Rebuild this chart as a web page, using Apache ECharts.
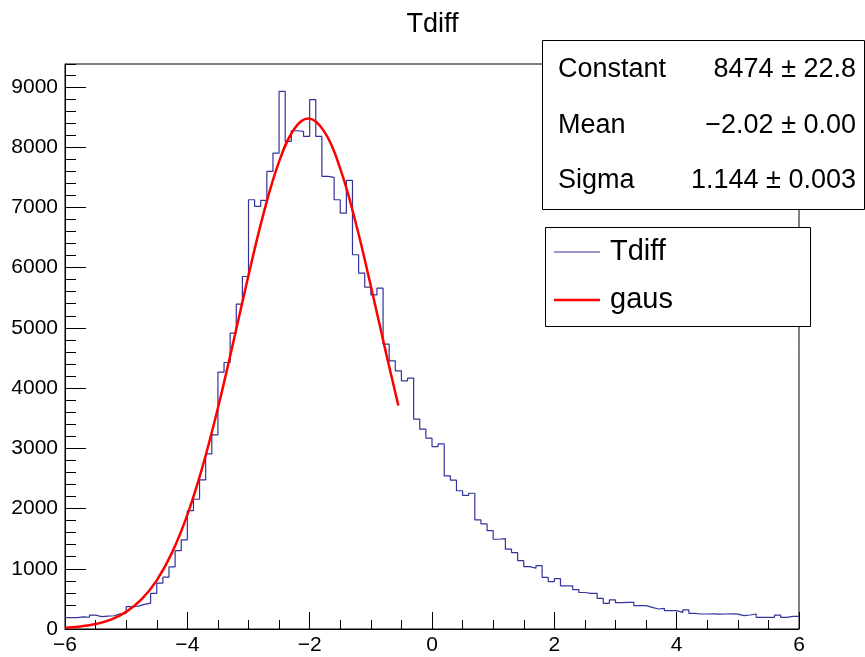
<!DOCTYPE html>
<html>
<head>
<meta charset="utf-8">
<script src="https://cdn.jsdelivr.net/npm/echarts@6/dist/echarts.min.js"></script>
<style>
html,body{margin:0;padding:0;background:#fff;}
#chart{width:865px;height:657px;}
</style>
</head>
<body>
<div id="chart"></div>
<script>
// ---- data ----
const xMin = -6, xMax = 6, binWidth = 0.1;
const histCounts = [
  188, 188, 200, 195, 230, 205, 215, 220, 250, 260,
  370, 380, 410, 430, 590, 760, 860, 1030, 1300, 1480,
  1965, 2154, 2475, 2907, 3223, 4264, 4424, 4911, 5393, 5852,
  7126, 7015, 7115, 7597, 7902, 8925, 8095, 8272, 8261, 8178,
  8787, 8178, 7513, 7497, 7126, 6905, 7447, 6213, 5908, 5675,
  5548, 5659, 4729, 4452, 4286, 4120, 4164, 3483, 3317, 3168,
  3029, 3073, 2542, 2470, 2295, 2220, 2254, 1811, 1744, 1633,
  1490, 1500, 1326, 1268, 1135, 1035, 1008, 1052, 858, 786,
  835, 717, 717, 654, 606, 593, 592, 510, 427, 482,
  437, 443, 443, 387, 387, 360, 332, 343, 304, 304,
  277, 316, 260, 249, 249, 252, 248, 249, 250, 247,
  221, 232, 249, 194, 194, 194, 232, 194, 210, 210
];
const gaussX = [-6, -5.75, -5.5, -5.25, -5, -4.75, -4.5, -4.25, -4, -3.75, -3.5, -3.25, -3, -2.75, -2.5, -2.25, -2.02, -1.75, -1.5, -1.25, -1, -0.75, -0.55];
const gaussY = [20, 42, 83, 157, 285, 491, 808, 1268, 1895, 2701, 3670, 4754, 5872, 6913, 7760, 8305, 8474, 8241, 7642, 6757, 5695, 4576, 3711];
const statNames = ['Constant', 'Mean', 'Sigma'];
const statValues = ['8474 \u00b1 22.8', '\u22122.02 \u00b1 0.00', '1.144 \u00b1 0.003'];
const legendNames = ['Tdiff', 'gaus'];
const titleText = 'Tdiff';
const yMaxValue = 9380;

// ---- build ----
const FONT = "'Liberation Sans', Arial, Helvetica, sans-serif";
const histData = histCounts.map((v, i) => [+(xMin + i * binWidth).toFixed(2), v]);
histData.push([xMax, histCounts[histCounts.length - 1]]);
const gaussData = gaussX.map((x, i) => [x, gaussY[i]]);
const minus = v => String(v).replace('-', '\u2212');

const chart = echarts.init(document.getElementById('chart'), null, {renderer: 'canvas'});

const statRows = [69.5, 125.5, 181];
const graphics = [
  {type: 'rect', z: 100, shape: {x: 542.5, y: 40.5, width: 322, height: 169},
   style: {fill: '#fff', stroke: '#000', lineWidth: 1}},
  {type: 'rect', z: 100, shape: {x: 545.5, y: 227.5, width: 265, height: 99},
   style: {fill: '#fff', stroke: '#000', lineWidth: 1}},
  {type: 'line', z: 101, shape: {x1: 554, y1: 252, x2: 600, y2: 252},
   style: {stroke: '#333399', lineWidth: 1.2}},
  {type: 'line', z: 101, shape: {x1: 554, y1: 300, x2: 600, y2: 300},
   style: {stroke: '#ff0000', lineWidth: 2.5}},
  {type: 'text', z: 101, style: {text: legendNames[0], x: 610, y: 252, font: '29px ' + FONT, fill: '#000', align: 'left', verticalAlign: 'middle'}},
  {type: 'text', z: 101, style: {text: legendNames[1], x: 610, y: 300, font: '29px ' + FONT, fill: '#000', align: 'left', verticalAlign: 'middle'}}
];
statNames.forEach((n, i) => {
  graphics.push({type: 'text', z: 101, style: {text: n, x: 558, y: statRows[i], font: '27px ' + FONT, fill: '#000', align: 'left', verticalAlign: 'middle'}});
  graphics.push({type: 'text', z: 101, style: {text: statValues[i], x: 856, y: statRows[i], font: '27px ' + FONT, fill: '#000', align: 'right', verticalAlign: 'middle'}});
});

const option = {
  animation: false,
  backgroundColor: '#fff',
  title: {text: titleText, left: 'center', top: 6,
    textStyle: {fontFamily: FONT, fontSize: 27, fontWeight: 'normal', color: '#000'}},
  grid: {left: 65, right: 66, top: 64, bottom: 28, show: true, borderColor: '#000', borderWidth: 1, backgroundColor: 'transparent'},
  xAxis: [{
    type: 'value', min: xMin, max: xMax, interval: 2,
    axisLine: {onZero: false, lineStyle: {color: '#000', width: 1}},
    axisTick: {inside: true, length: 17, lineStyle: {color: '#000', width: 1}},
    minorTick: {show: true, splitNumber: 4, length: 9, lineStyle: {color: '#000', width: 1}},
    splitLine: {show: false},
    axisLabel: {fontFamily: FONT, fontSize: 21, color: '#000', margin: 6, formatter: minus}
  }],
  yAxis: [{
    type: 'value', min: 0, max: yMaxValue, interval: 1000, position: 'left',
    axisLine: {show: true, onZero: false, lineStyle: {color: '#000', width: 1}},
    axisTick: {inside: true, length: 21, lineStyle: {color: '#000', width: 1}},
    splitLine: {show: false},
    axisLabel: {fontFamily: FONT, fontSize: 21, color: '#000', margin: 7, showMaxLabel: false,
      formatter: v => (v % 1000 === 0 ? String(v) : '')}
  }, {
    type: 'value', min: 0, max: yMaxValue, interval: 200, position: 'left', offset: 0,
    axisLine: {show: false, onZero: false},
    axisTick: {show: true, inside: true, length: 11, lineStyle: {color: '#000', width: 1}},
    splitLine: {show: false},
    axisLabel: {show: false}
  }],
  series: [{
    name: legendNames[0], type: 'line', step: 'end', data: histData, symbol: 'none',
    lineStyle: {color: '#333399', width: 1.2}, z: 3
  }, {
    name: legendNames[1], type: 'line', smooth: 0.4, data: gaussData, symbol: 'none',
    lineStyle: {color: '#ff0000', width: 2.5}, z: 4
  }],
  graphic: graphics
};
chart.setOption(option);
</script>
</body>
</html>
